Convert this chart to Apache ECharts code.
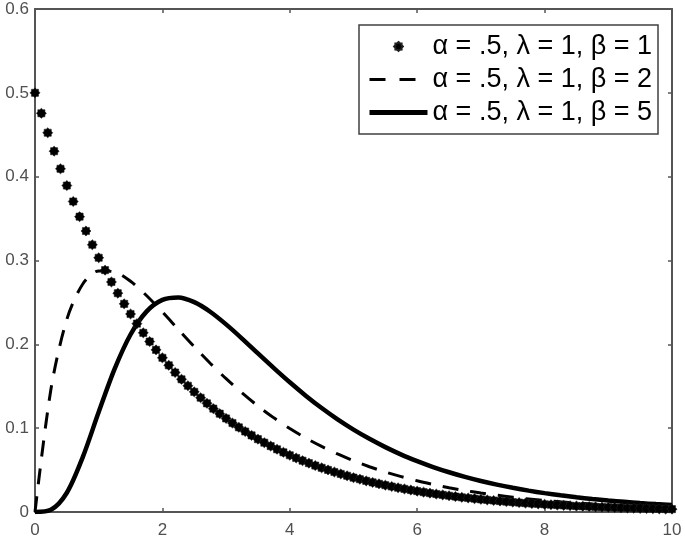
<!DOCTYPE html>
<html>
<head>
<meta charset="utf-8">
<script src="https://cdn.jsdelivr.net/npm/echarts@6/dist/echarts.min.js"></script>
<style>
html,body{margin:0;padding:0;background:#fff;}
#chart{width:685px;height:540px;}
</style>
</head>
<body>
<div id="chart"></div>
<script>
// ---- data ----
const seriesNames = ['α = .5, λ = 1, β = 1', 'α = .5, λ = 1, β = 2', 'α = .5, λ = 1, β = 5'];

const starX = [0,0.1,0.2,0.3,0.4,0.5,0.6,0.7,0.8,0.9,
  1,1.1,1.2,1.3,1.4,1.5,1.6,1.7,1.8,1.9,
  2,2.1,2.2,2.3,2.4,2.5,2.6,2.7,2.8,2.9,
  3,3.1,3.2,3.3,3.4,3.5,3.6,3.7,3.8,3.9,
  4,4.1,4.2,4.3,4.4,4.5,4.6,4.7,4.8,4.9,
  5,5.1,5.2,5.3,5.4,5.5,5.6,5.7,5.8,5.9,
  6,6.1,6.2,6.3,6.4,6.5,6.6,6.7,6.8,6.9,
  7,7.1,7.2,7.3,7.4,7.5,7.6,7.7,7.8,7.9,
  8,8.1,8.2,8.3,8.4,8.5,8.6,8.7,8.8,8.9,
  9,9.1,9.2,9.3,9.4,9.5,9.6,9.7,9.8,9.9,10];
const starY = [0.5000,0.4756,0.4524,0.4304,0.4094,0.3894,0.3704,0.3523,0.3352,0.3188,
  0.3033,0.2885,0.2744,0.2610,0.2483,0.2362,0.2247,0.2137,0.2033,0.1934,
  0.1839,0.1750,0.1664,0.1583,0.1506,0.1433,0.1363,0.1296,0.1233,0.1173,
  0.1116,0.1061,0.1010,0.0960,0.0914,0.0869,0.0827,0.0786,0.0748,0.0712,
  0.0677,0.0644,0.0612,0.0583,0.0554,0.0527,0.0502,0.0477,0.0454,0.0432,
  0.0410,0.0391,0.0371,0.0353,0.0336,0.0320,0.0304,0.0289,0.0275,0.0262,
  0.0249,0.0237,0.0225,0.0214,0.0204,0.0194,0.0184,0.0175,0.0167,0.0159,
  0.0151,0.0144,0.0137,0.0130,0.0124,0.0118,0.0112,0.0106,0.0101,0.0096,
  0.0092,0.0087,0.0083,0.0079,0.0075,0.0071,0.0068,0.0065,0.0061,0.0058,
  0.0056,0.0053,0.0050,0.0048,0.0045,0.0043,0.0041,0.0039,0.0037,0.0035,0.0034];

const lineX = [0,0.25,0.5,0.75,1,1.25,1.5,1.75,2,2.25,2.5,2.75,3,3.25,3.5,3.75,4,4.25,4.5,4.75,
  5,5.25,5.5,5.75,6,6.25,6.5,6.75,7,7.25,7.5,7.75,8,8.25,8.5,8.75,9,9.25,9.5,9.75,10];
const dashY = [0,0.1464,0.2298,0.2720,0.2876,0.2864,0.2752,0.2583,0.2386,0.2178,
  0.1972,0.1775,0.1590,0.1420,0.1264,0.1123,0.0996,0.0883,0.0782,0.0692,
  0.0611,0.0540,0.0477,0.0422,0.0372,0.0329,0.0290,0.0256,0.0226,0.0200,
  0.0176,0.0156,0.0137,0.0121,0.0107,0.0094,0.0083,0.0074,0.0065,0.0057,0.0051];
const solidY = [0,0.0026,0.0230,0.0655,0.1192,0.1707,0.2117,0.2390,0.2530,0.2559,
  0.2503,0.2389,0.2238,0.2069,0.1891,0.1716,0.1547,0.1388,0.1240,0.1105,
  0.0983,0.0873,0.0774,0.0685,0.0607,0.0536,0.0474,0.0419,0.0370,0.0327,
  0.0289,0.0255,0.0225,0.0199,0.0175,0.0155,0.0137,0.0121,0.0106,0.0094,0.0083];

const xTicks = [0, 2, 4, 6, 8, 10];
const yTicks = [0, 0.1, 0.2, 0.3, 0.4, 0.5, 0.6];

// ---- chart ----
const pair = (xs, ys) => xs.map((x, i) => [x, ys[i]]);
const starPath = 'path://M50 0 L65 14 L85.4 14.6 L86 35 L100 50 L86 65 L85.4 85.4 L65 86 L50 100 L35 86 L14.6 85.4 L14 65 L0 50 L14 35 L14.6 14.6 L35 14 Z';
const axisColor = '#555555';
const labelColor = '#505050';
const font = 'Liberation Sans, Arial, sans-serif';
const dashPattern = [16, 12];
const legendDash = [16, 14];

const xBase = {
  type: 'value', min: xTicks[0], max: xTicks[xTicks.length - 1], interval: 2,
  axisLine: { show: true, onZero: false, lineStyle: { color: axisColor, width: 2 } },
  axisTick: { show: true, inside: true, length: 4, lineStyle: { color: axisColor, width: 1.5 } },
  splitLine: { show: false }
};
const yBase = {
  type: 'value', min: yTicks[0], max: yTicks[yTicks.length - 1], interval: 0.1,
  axisLine: { show: true, onZero: false, lineStyle: { color: axisColor, width: 2 } },
  axisTick: { show: true, inside: true, length: 4, lineStyle: { color: axisColor, width: 1.5 } },
  splitLine: { show: false }
};

const chart = echarts.init(document.getElementById('chart'), null, { renderer: 'canvas' });
chart.setOption({
  animation: false,
  backgroundColor: '#ffffff',
  grid: { left: 35, right: 13, top: 9, bottom: 28, containLabel: false },
  xAxis: [
    Object.assign({}, xBase, { position: 'bottom',
      axisLabel: { show: true, color: labelColor, fontSize: 17, fontFamily: font, margin: 10 } }),
    Object.assign({}, xBase, { position: 'top', axisLabel: { show: false } })
  ],
  yAxis: [
    Object.assign({}, yBase, { position: 'left',
      axisLabel: { show: true, color: labelColor, fontSize: 17, fontFamily: font, margin: 6 } }),
    Object.assign({}, yBase, { position: 'right', axisLabel: { show: false } })
  ],
  legend: {
    orient: 'vertical', left: 359, top: 25,
    padding: [8, 6, 8, 8], itemGap: 6, itemWidth: 58, itemHeight: 11,
    borderColor: '#404040', borderWidth: 1.5, backgroundColor: '#ffffff',
    textStyle: { fontSize: 27, color: '#000', fontFamily: font },
    data: [
      { name: seriesNames[0] },
      { name: seriesNames[1], itemStyle: { opacity: 0 }, lineStyle: { color: '#000', width: 3, type: legendDash } },
      { name: seriesNames[2], itemStyle: { opacity: 0 }, lineStyle: { color: '#000', width: 5 } }
    ]
  },
  series: [
    {
      name: seriesNames[0], type: 'line', data: pair(starX, starY),
      xAxisIndex: 0, yAxisIndex: 0, z: 5,
      symbol: starPath, symbolSize: 10, showSymbol: true, showAllSymbol: true,
      itemStyle: { color: '#000', borderColor: '#222', borderWidth: 0.6 },
      lineStyle: { width: 0, opacity: 0 }
    },
    {
      name: seriesNames[1], type: 'line', data: pair(lineX, dashY),
      xAxisIndex: 0, yAxisIndex: 0, z: 3,
      symbol: 'none', smooth: 0.3,
      itemStyle: { color: '#000' },
      lineStyle: { color: '#000', width: 3, type: dashPattern }
    },
    {
      name: seriesNames[2], type: 'line', data: pair(lineX, solidY),
      xAxisIndex: 0, yAxisIndex: 0, z: 4,
      symbol: 'none', smooth: 0.3,
      itemStyle: { color: '#000' },
      lineStyle: { color: '#000', width: 4.5 }
    }
  ]
});
</script>
</body>
</html>
